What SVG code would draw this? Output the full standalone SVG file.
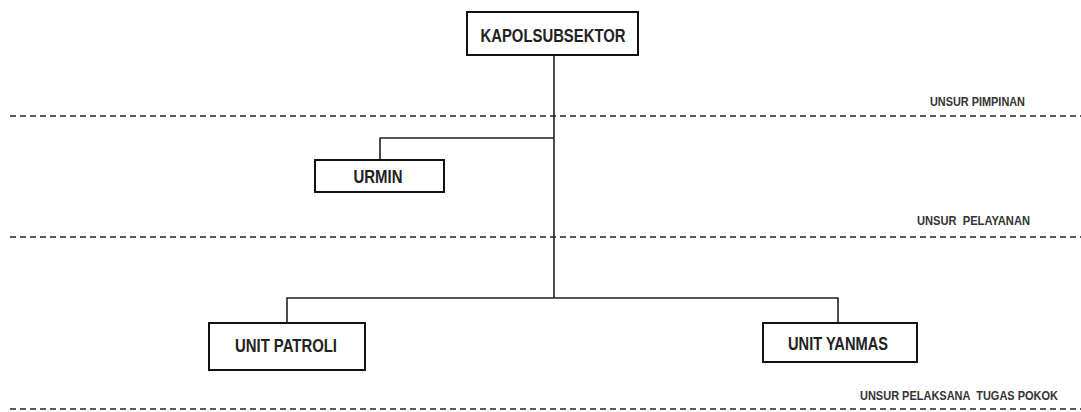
<svg xmlns="http://www.w3.org/2000/svg" width="1081" height="412" viewBox="0 0 1081 412">
<style>
.box{fill:#fff;stroke:#111;stroke-width:2}
.lbl{font-family:"Liberation Sans",Arial,sans-serif;font-weight:bold;font-size:18.5px;fill:#222;text-anchor:middle}
.sm{font-family:"Liberation Sans",Arial,sans-serif;font-weight:bold;font-size:12.5px;fill:#333;white-space:pre}
.con{stroke:#222;stroke-width:1.6;fill:none}
.dash{stroke:#222;stroke-width:1.6;stroke-dasharray:6 4;fill:none}
</style>
<rect width="1081" height="412" fill="#fff"/>
<g id="connectors">
<path class="con" d="M554 55 V298"/>
<path class="con" d="M380 160 V138 H554"/>
<path class="con" d="M287 323 V298 H838 V323"/>
</g>
<g id="dividers">
<path class="dash" d="M10 116 H1081"/>
<path class="dash" d="M10 237 H1081"/>
<path class="dash" d="M10 409 H1081"/>
<text class="sm" x="930" y="106" textLength="95" lengthAdjust="spacingAndGlyphs">UNSUR PIMPINAN</text>
<text class="sm" x="917" y="225" textLength="113" lengthAdjust="spacingAndGlyphs" xml:space="preserve">UNSUR  PELAYANAN</text>
<text class="sm" x="860" y="400" textLength="198" lengthAdjust="spacingAndGlyphs" xml:space="preserve">UNSUR PELAKSANA  TUGAS POKOK</text>
</g>
<g id="kapolsubsektor">
<rect class="box" x="467" y="12" width="171" height="43"/>
<text class="lbl" x="553" y="42" textLength="145" lengthAdjust="spacingAndGlyphs">KAPOLSUBSEKTOR</text>
</g>
<g id="urmin">
<rect class="box" x="315" y="160" width="129" height="32"/>
<text class="lbl" x="378" y="183" textLength="49" lengthAdjust="spacingAndGlyphs">URMIN</text>
</g>
<g id="unit-patroli">
<rect class="box" x="209" y="323" width="156" height="47"/>
<text class="lbl" x="286" y="352" textLength="102" lengthAdjust="spacingAndGlyphs">UNIT PATROLI</text>
</g>
<g id="unit-yanmas">
<rect class="box" x="763" y="323" width="154" height="39"/>
<text class="lbl" x="838" y="350" textLength="100" lengthAdjust="spacingAndGlyphs">UNIT YANMAS</text>
</g>
</svg>
